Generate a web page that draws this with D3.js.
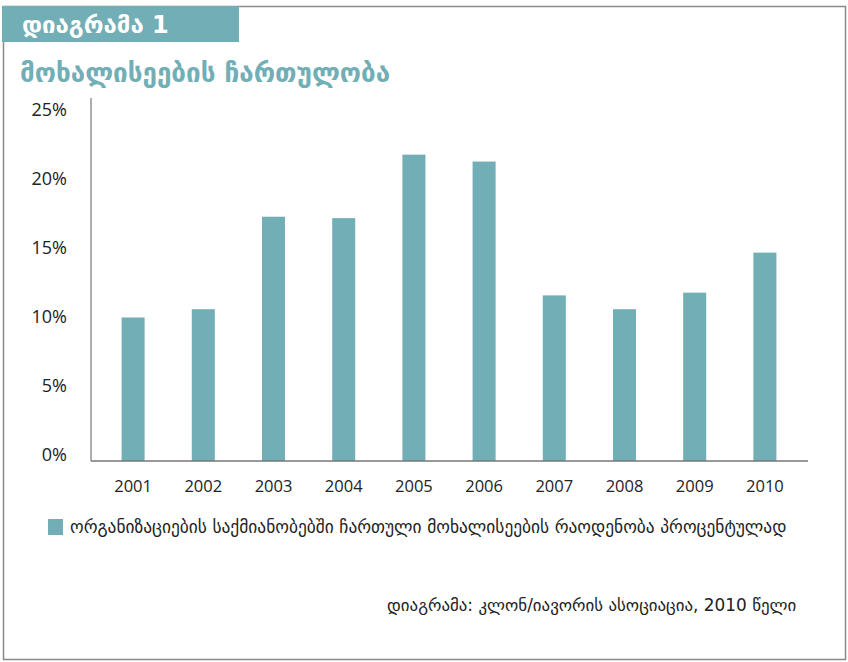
<!DOCTYPE html>
<html>
<head>
<meta charset="utf-8">
<script src="https://cdn.jsdelivr.net/npm/d3@7"></script>
<style>
    body { margin: 0; background: #fff; }
    text { font-family: "Open Sans", "DejaVu Sans", sans-serif; }
</style>
</head>
<body>
<div id="chart"></div>
<script>
var years = ["2001", "2002", "2003", "2004", "2005", "2006", "2007", "2008", "2009", "2010"];
var shares = [10.4, 11.0, 17.7, 17.6, 22.2, 21.7, 12.0, 11.0, 12.2, 15.1];
var yTicks = [0, 5, 10, 15, 20, 25];

var headerText = "დიაგრამა 1";
var titleText = "მოხალისეების ჩართულობა";
var legendText = "ორგანიზაციების საქმიანობებში ჩართული მოხალისეების რაოდენობა პროცენტულად";
var sourceText = "დიაგრამა: კლონ/იავორის ასოციაცია, 2010 წელი";

var width = 848,
        height = 662;
var teal = "#72aeb5";

var svg = d3.select("#chart").append("svg")
        .attr("width", width)
        .attr("height", height);

// frame
svg.append("rect")
        .attr("x", 3.5)
        .attr("y", 6.5)
        .attr("width", 842)
        .attr("height", 653)
        .attr("fill", "none")
        .attr("stroke", "#8a8a8a")
        .attr("stroke-width", 1.5);

// header band
svg.append("rect")
        .attr("x", 2)
        .attr("y", 6)
        .attr("width", 237)
        .attr("height", 36)
        .attr("fill", teal);
svg.append("text")
        .attr("x", 22)
        .attr("y", 33)
        .attr("fill", "#fff")
        .attr("font-size", 24)
        .attr("font-weight", "bold")
        .style("font-family", "'DejaVu Sans', sans-serif")
        .text(headerText);

svg.append("text")
        .attr("x", 20)
        .attr("y", 82)
        .attr("fill", teal)
        .attr("font-size", 26)
        .attr("font-weight", "bold")
        .style("font-family", "'DejaVu Sans', sans-serif")
        .text(titleText);

var x = d3.scaleBand()
        .domain(years)
        .range([98, 800])
        .paddingInner(0.672)
        .paddingOuter(0.336);

var y = d3.scaleLinear()
        .domain([0, 25])
        .range([461, 116]);

var plot = svg.append("g").attr("id", "plot");

plot.selectAll(".bar")
        .data(shares)
        .enter().append("rect")
        .attr("class", "bar")
        .attr("x", function (d, i) {
            return x(years[i]);
        })
        .attr("y", function (d) {
            return y(d);
        })
        .attr("width", x.bandwidth())
        .attr("height", function (d) {
            return y(0) - y(d);
        })
        .attr("fill", teal);

// axes
var yAxis = plot.append("g")
        .attr("transform", "translate(91,0)")
        .call(d3.axisLeft(y).tickValues(yTicks).tickSize(0).tickPadding(24)
                .tickFormat(function (d) { return d + "%"; }));
yAxis.select(".domain").remove();
yAxis.selectAll("text")
        .attr("y", -6)
        .attr("font-size", 18)
        .attr("fill", "#222")
        .style("font-family", "'Open Sans', sans-serif");

var xAxis = plot.append("g")
        .attr("transform", "translate(0,461)")
        .call(d3.axisBottom(x).tickSize(0).tickPadding(19));
xAxis.select(".domain").remove();
xAxis.selectAll("text")
        .attr("font-size", 16.5)
        .attr("fill", "#222")
        .style("font-family", "'Open Sans', sans-serif");

plot.append("line")
        .attr("x1", 91).attr("x2", 91)
        .attr("y1", 98).attr("y2", 461)
        .attr("stroke", "#777")
        .attr("stroke-width", 1.2);
plot.append("line")
        .attr("x1", 91).attr("x2", 808)
        .attr("y1", 461).attr("y2", 461)
        .attr("stroke", "#777")
        .attr("stroke-width", 1.5);

// legend
svg.append("rect")
        .attr("x", 48)
        .attr("y", 519)
        .attr("width", 15)
        .attr("height", 16)
        .attr("fill", teal);
svg.append("text")
        .attr("x", 70)
        .attr("y", 533)
        .attr("fill", "#222")
        .attr("font-size", 17.4)
        .style("font-family", "'DejaVu Sans', sans-serif")
        .text(legendText);

svg.append("text")
        .attr("x", 387)
        .attr("y", 611)
        .attr("fill", "#222")
        .attr("font-size", 16.9)
        .style("font-family", "'DejaVu Sans', sans-serif")
        .text(sourceText);
</script>
</body>
</html>
